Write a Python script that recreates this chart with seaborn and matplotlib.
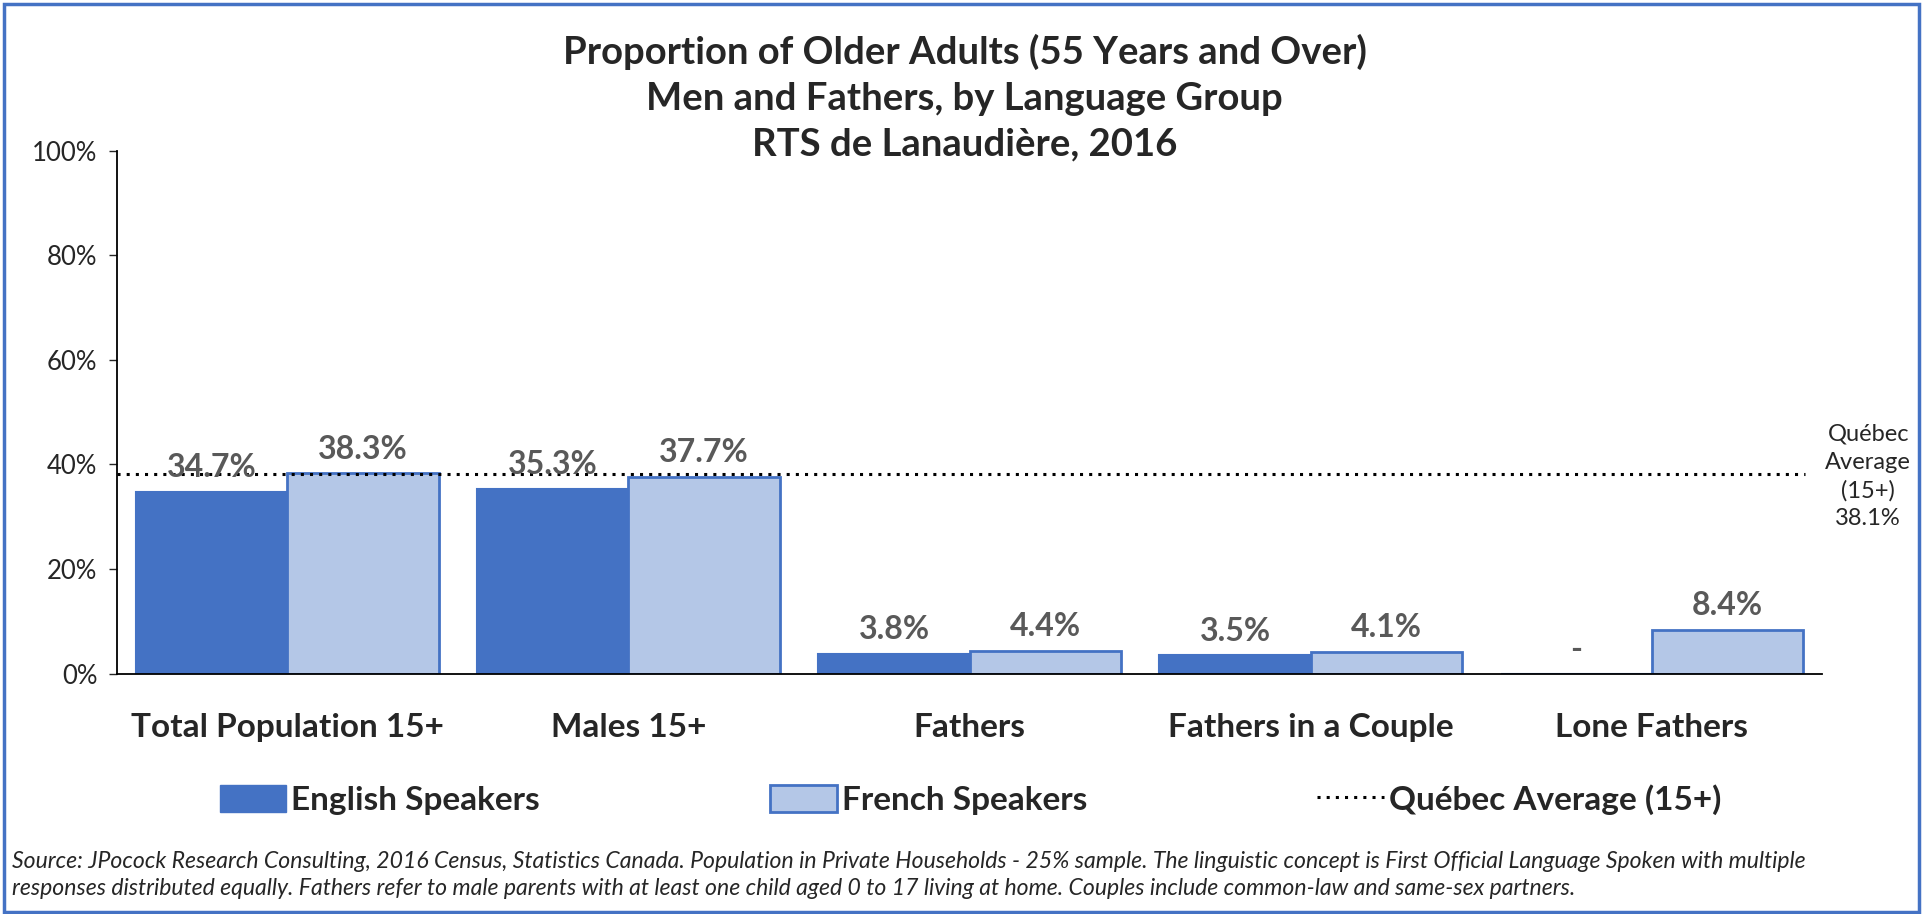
import pandas as pd
import matplotlib.pyplot as plt
import seaborn as sns
from matplotlib.patches import Patch, Rectangle
from matplotlib.lines import Line2D

# Chart data
groups = ["Total Population 15+", "Males 15+", "Fathers", "Fathers in a Couple", "Lone Fathers"]
english = [34.7, 35.3, 3.8, 3.5, 0.0]
french = [38.3, 37.7, 4.4, 4.1, 8.4]
english_labels = ["34.7%", "35.3%", "3.8%", "3.5%", "-"]
french_labels = ["38.3%", "37.7%", "4.4%", "4.1%", "8.4%"]
quebec_avg = 38.1
yticks = [0, 20, 40, 60, 80, 100]

df = pd.DataFrame({
    "group": groups * 2,
    "value": english + french,
    "language": ["English Speakers"] * len(groups) + ["French Speakers"] * len(groups),
})

sns.set_style("white")
plt.rcParams["font.family"] = ["Lato", "DejaVu Sans"]

blue = "#4472C4"
light = "#B4C7E7"

fig = plt.figure(figsize=(19.29, 9.14), dpi=100)
ax = fig.add_axes([0.0606, 0.263, 0.884, 0.572])

sns.barplot(data=df, x="group", y="value", hue="language",
            palette={"English Speakers": blue, "French Speakers": light},
            saturation=1, width=0.886, gap=0, ax=ax, legend=False)

# edges: french bars get a blue outline
for bar in ax.containers[0]:
    bar.set_edgecolor(blue)
    bar.set_linewidth(1.5)
for bar in ax.containers[1]:
    bar.set_edgecolor(blue)
    bar.set_linewidth(2)

ax.bar_label(ax.containers[0], labels=english_labels, padding=7,
             fontsize=23, fontweight="bold", color="#595959")
ax.bar_label(ax.containers[1], labels=french_labels, padding=7,
             fontsize=23, fontweight="bold", color="#595959")

# Quebec average line
ax.axhline(quebec_avg, xmin=0, xmax=0.99, color="black", linestyle=(0, (1, 2)), linewidth=2.2)
ax.text(1.027, 0.377, "Québec\nAverage\n(15+)\n38.1%", transform=ax.transAxes,
        ha="center", va="center", fontsize=17, linespacing=1.4)

ax.set_ylim(0, 100)
ax.set_yticks(yticks)
ax.set_yticklabels([f"{t}%" for t in yticks], fontsize=18.5)
ax.set_xlim(-0.5, len(groups) - 0.5)
ax.set_xlabel("")
ax.set_ylabel("")
ax.tick_params(axis="x", length=0, labelsize=24, pad=28)
ax.tick_params(axis="y", length=6, width=1, direction="out", left=True, pad=8)
for lbl in ax.get_xticklabels():
    lbl.set_fontweight("bold")
for s in ["top", "right"]:
    ax.spines[s].set_visible(False)
for s in ["left", "bottom"]:
    ax.spines[s].set_color("black")
    ax.spines[s].set_linewidth(1.3)

fig.text(0.5, 0.893, "Proportion of Older Adults (55 Years and Over)\nMen and Fathers, by Language Group\nRTS de Lanaudière, 2016",
         ha="center", va="center", fontsize=27.5, fontweight="bold", linespacing=1.42)

handles = [
    Patch(facecolor=blue, edgecolor=blue),
    Patch(facecolor=light, edgecolor=blue, linewidth=2),
    Line2D([0], [0], color="black", linestyle=(0, (1, 2)), linewidth=2.2),
]
fig.legend(handles, ["English Speakers", "French Speakers", "Québec Average (15+)"],
           loc="center", bbox_to_anchor=(0.503, 0.125), ncol=3, frameon=False,
           prop={"size": 24, "weight": "bold"}, handlelength=2.0, handleheight=0.9,
           handletextpad=0.15, columnspacing=6.9)

fig.text(0.006, 0.043,
         "Source: JPocock Research Consulting, 2016 Census, Statistics Canada. Population in Private Households - 25% sample. "
         "The linguistic concept is First Official Language Spoken with multiple\n"
         "responses distributed equally. Fathers refer to male parents with at least one child aged 0 to 17 living at home. "
         "Couples include common-law and same-sex partners.",
         fontsize=16.6, style="italic", va="center", linespacing=1.35)

# blue frame around the figure
fig.patches.append(Rectangle((0.002, 0.002), 0.993, 0.994, transform=fig.transFigure,
                             fill=False, edgecolor=blue, linewidth=2.5))

fig.savefig("out.png", dpi=100)
